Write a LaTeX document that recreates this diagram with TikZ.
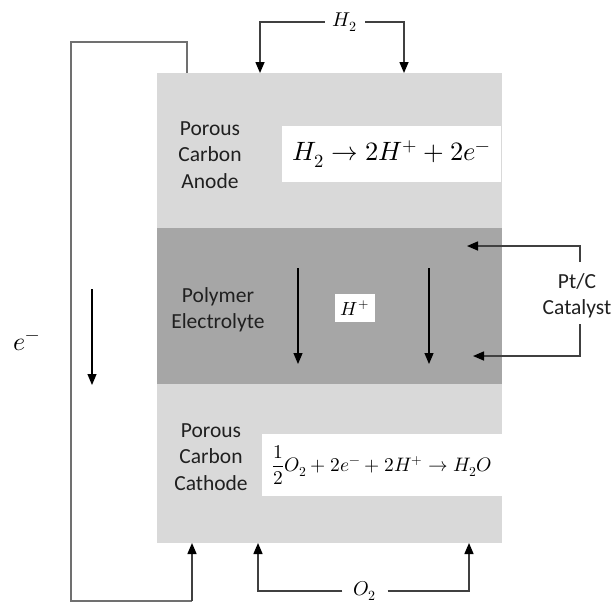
\documentclass[tikz,border=0pt]{standalone}
\usepackage{fontspec}
\usepackage{unicode-math}
\setmainfont{Carlito}
\setmathfont{Latin Modern Math}
\usetikzlibrary{arrows.meta}
\definecolor{lightband}{HTML}{D9D9D9}
\definecolor{darkband}{HTML}{A6A6A6}
\definecolor{wire}{HTML}{707070}
\definecolor{feed}{HTML}{404040}
\definecolor{ink}{HTML}{202020}
\begin{document}
\begin{tikzpicture}[x=1pt,y=-1pt,
  lbl/.style={font=\fontsize{21.5}{26.5}\selectfont, align=center, inner sep=0pt, text=ink},
  tip/.style={-{Triangle[length=11pt,width=9pt]}},
  arr/.style={tip, line width=1.2pt, black},
  feedarr/.style={tip, line width=1.5pt, draw=feed, -{Triangle[length=11pt,width=9pt,color=black]}},
  wireline/.style={line width=2pt, draw=wire},
  eqbox/.style={fill=white, inner sep=0pt}
]
\useasboundingbox (0,0) rectangle (613,603);
% cell layers
\fill[lightband] (157,73) rectangle (502,543);
\fill[darkband] (157,228) rectangle (502,384);
% equations
\node[eqbox, minimum width=219pt, minimum height=56pt] (anEq) at (391.5,154)
  {\fontsize{26.5}{30}\selectfont$H_2\rightarrow 2H^{+} + 2e^{-}$};
\node[eqbox, minimum width=240pt, minimum height=62pt] (caEq) at (382,465)
  {\fontsize{19.5}{24}\selectfont$\displaystyle\frac{1}{2}O_2 + 2e^{-} + 2H^{+} \rightarrow H_2O$};
\node[eqbox, minimum width=40pt, minimum height=28pt] (hplus) at (355,308)
  {\fontsize{19}{24}\selectfont$H^{+}$};
% labels
\node[lbl] (anode) at (210,155) {Porous\\Carbon\\Anode};
\node[lbl] (elec) at (218,310) {Polymer\\Electrolyte};
\node[lbl] (cath) at (211,457) {Porous\\Carbon\\Cathode};
\node[lbl] (ptc) at (577,296) {Pt/C\\Catalyst};
\node (eminus) at (27,343) {\fontsize{26}{30}\selectfont$e^{-}$};
% proton arrows
\coordinate (p1s) at (298,268); \coordinate (p1e) at (298,364);
\coordinate (p2s) at (429,268); \coordinate (p2e) at (429,364);
\draw[arr] (p1s) -- (p1e);
\draw[arr] (p2s) -- (p2e);
% electron arrow
\coordinate (es) at (92,289); \coordinate (ee) at (92,385);
\draw[arr] (es) -- (ee);
% Pt/C connectors
\coordinate (ptA) at (580,262); \coordinate (ptTop) at (580,246); \coordinate (ptTopTip) at (467,246);
\coordinate (ptB) at (580,324); \coordinate (ptBot) at (580,356); \coordinate (ptBotTip) at (473,356);
\draw[feedarr] (ptA) -- (ptTop) -- (ptTopTip);
\draw[feedarr] (ptB) -- (ptBot) -- (ptBotTip);
% H2 feed
\node[inner xsep=8pt, inner ysep=0pt] (h2) at (345,22) {\fontsize{20}{24}\selectfont$H_2$};
\coordinate (h2L) at (260,73); \coordinate (h2R) at (404,73);
\draw[feedarr] (h2.west) -| (h2L);
\draw[feedarr] (h2.east) -| (h2R);
% O2 feed
\node[inner xsep=11pt, inner ysep=0pt] (o2) at (365,591) {\fontsize{20}{24}\selectfont$O_2$};
\coordinate (o2L) at (258,543); \coordinate (o2R) at (469,543);
\draw[feedarr] (o2.west) -| (o2L);
\draw[feedarr] (o2.east) -| (o2R);
% external circuit
\coordinate (cTop) at (187,73); \coordinate (c1) at (187,42); \coordinate (c2) at (71,42);
\coordinate (c3) at (71,601); \coordinate (c4) at (192,601); \coordinate (cBot) at (192,543);
\draw[wireline] (cTop) -- (c1) -- (c2) -- (c3) -- (c4);
\draw[feedarr] (c4) -- (cBot);
\end{tikzpicture}
\end{document}
